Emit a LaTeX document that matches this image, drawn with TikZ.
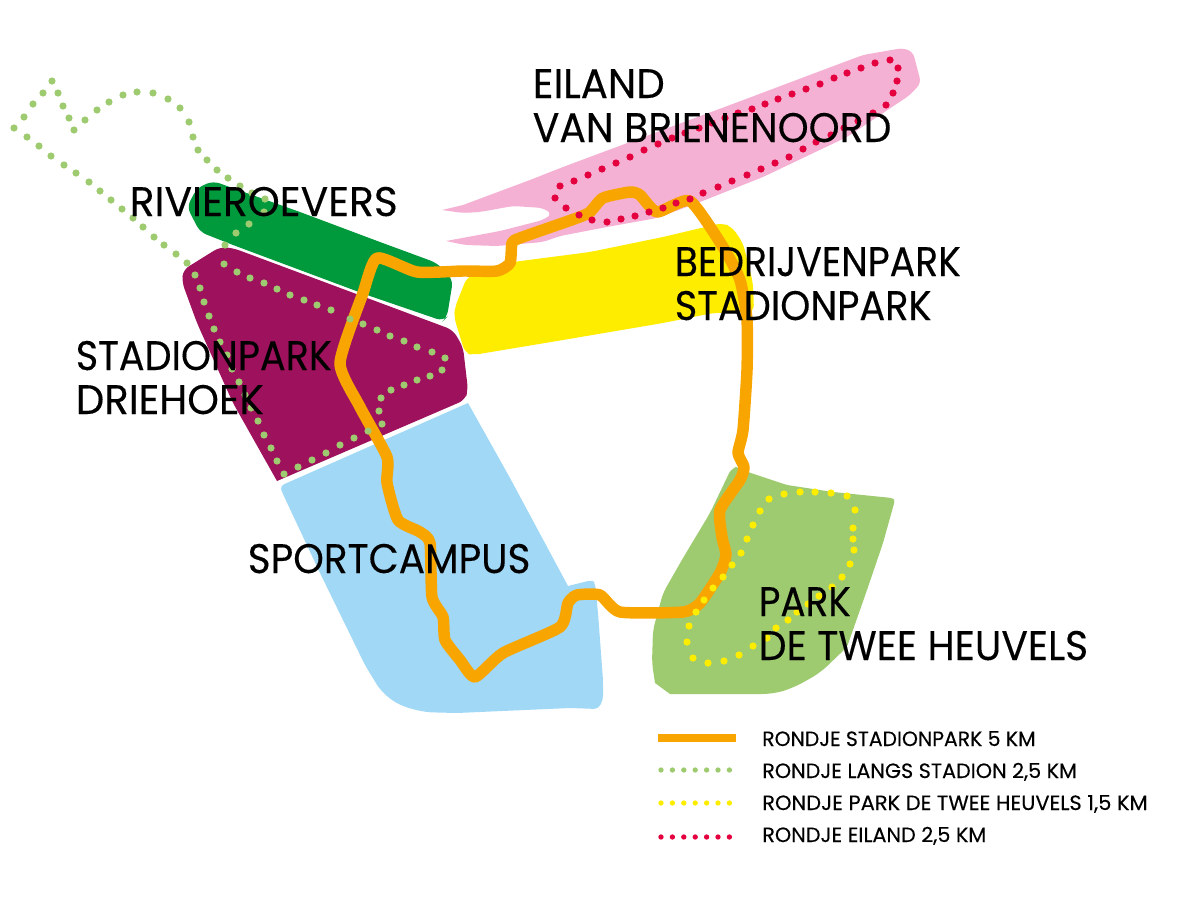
\documentclass[tikz,border=0pt]{standalone}
\usepackage{graphicx}
\usepackage{fontspec}
\setmainfont{Poppins}[FakeBold=0.25]
\definecolor{cOrange}{HTML}{F9A500}
\definecolor{cDark}{HTML}{009A3D}
\definecolor{cPurple}{HTML}{9E115C}
\definecolor{cBlue}{HTML}{A0D8F6}
\definecolor{cYellow}{HTML}{FFED00}
\definecolor{cPink}{HTML}{F5B1D3}
\definecolor{cLight}{HTML}{9FCB70}
\definecolor{cRed}{HTML}{E4003F}
\newcommand{\fitpx}[2]{\resizebox{#1pt}{\height}{#2}}
\tikzset{
  area/.style={rounded corners=5pt},
  maplabel/.style={anchor=base west,inner sep=0pt,align=left,text=black,font=\fontsize{31}{33}\selectfont},
  keylabel/.style={anchor=base west,inner sep=0pt,text=black,font=\fontsize{15.5}{17}\selectfont},
  route/.style={draw=cOrange,line width=8.6pt,line join=round,line cap=round},
  mapdot/.style={radius=2.7pt},
  keydot/.style={radius=2pt}
}
\begin{document}
\begin{tikzpicture}[x=0.75pt,y=-0.75pt]
\useasboundingbox (0,0) rectangle (1200,900);
% yellow
\fill[cYellow,area] (722,223) -- (732,227) -- (743,243) -- (753,283) -- (754,312) -- (713,313) -- (663,323) -- (563,340) -- (473,355) -- (465,353) -- (454,317) -- (455,307) -- (467,277) -- (513,262) -- (590,252) -- (663,237) -- cycle;
% pink
\fill[cPink,rounded corners=4pt] (903,48) -- (913,52) -- (921,83) -- (910,95) -- (847,137) -- (763,177) -- (700,202) -- (657,218) -- (607,227) -- (560,236) -- (543,242) -- (497,246) -- (465,245) [sharp corners] -- (446,241) -- (473,236) [rounded corners=4pt] -- (500,231) -- (543,220) -- (552,214) -- (543,208) -- (513,206) -- (480,212) -- (463,213) [sharp corners] -- (442,210) -- (463,205) [rounded corners=4pt] -- (530,180) -- (563,167) -- (630,142) -- (730,105) -- (823,70) -- (863,55) -- cycle;
% dark green
\fill[cDark,area] (213,181) -- (300,212) -- (380,242) -- (437,263) -- (453,280) -- (447,317) -- (443,321) -- (367,295) -- (233,245) -- (200,232) -- (187,207) -- (197,188) -- cycle;
% purple
\fill[cPurple,area] (220,247) -- (233,248) -- (453,330) -- (463,347) -- (468,390) -- (465,400) [sharp corners] -- (277,481) [rounded corners=5pt] -- (233,403) -- (197,323) -- (182,282) -- (183,270) -- (207,255) -- cycle;
% blue
\fill[cBlue,rounded corners=3pt] (468,403) -- (280,486) -- (282,492) -- (320,573) -- (365,665) [rounded corners=12pt] -- (385,698) -- (417,712) [rounded corners=3pt] -- (457,713) -- (570,708) -- (598,709) -- (603,700) -- (603,680) -- (598,613) -- (595,583) -- (592,580) [sharp corners] -- (568,586) -- (510,478) -- cycle;
% light green
\fill[cLight,rounded corners=2pt] (732,467) -- (735,467) -- (748,472) -- (787,485) -- (833,492) -- (892,498) -- (895,500) -- (883,543) -- (867,590) -- (847,647) [rounded corners=8pt] -- (820,673) -- (793,688) -- (773,694) [sharp corners] -- (670,694) -- (655,683) [rounded corners=5pt] -- (652,663) -- (653,630) -- (663,593) -- (683,558) -- (710,513) -- cycle;
% orange route
\draw[route] plot[smooth cycle,tension=.35] coordinates {(377,258) (417,272) (463,271) (497,271) (510,263) (512,243) (520,238) (577,218) (590,212) (603,198) (630,192) (640,195) (657,212) (690,201) (723,247) (740,280) (747,320) (747,370) (743,430) (738,453) (744,467) (740,480) (720,510) (722,537) (726,555) (720,573) (700,603) (683,612) (620,612) (600,595) (577,595) (568,603) (560,627) (503,653) (475,677) (460,660) (445,640) (443,617) (432,597) (430,543) (420,532) (398,520) (387,483) (387,457) (360,407) (340,363) (363,293)};
% green dots
\foreach \p in {(52,81),(43,93),(33,104),(24,117),(14,128),(27,137),(39,146),(51,156),(64,165),(76,173),(89,182),(100,191),(111,200),(122,209),(133,218),(143,227),(154,237),(164,245),(176,254),(187,263),(195,275),(200,288),(204,302),(209,316),(214,329),(220,342),(227,355),(232,369),(239,382),(245,395),(251,408),(258,421),(264,435),(271,448),(277,461),(284,474),(298,467),(312,460),(326,453),(340,445),(354,438),(368,431),(382,424),(379,411),(381,398),(391,390),(404,385),(417,380),(430,376),(442,370),(445,358),(432,352),(417,347),(404,341),(390,336),(377,330),(363,324),(350,319),(331,310),(317,305),(304,300),(290,295),(277,289),(264,283),(250,278),(237,272),(224,264),(225,245),(236,233),(249,224),(264,212),(265,199),(252,193),(240,186),(228,178),(217,170),(207,160),(198,150),(193,137),(189,122),(180,108),(168,99),(153,93),(137,92),(123,95),(109,102),(97,110),(85,120),(74,130),(69,118),(63,106),(58,93)}
  \fill[cLight,mapdot] \p circle;
% red dots
\foreach \p in {(890,60),(898,68),(897,81),(893,93),(886,105),(873,113),(858,121),(844,128),(831,135),(816,142),(803,149),(789,157),(775,163),(761,169),(747,175),(732,181),(718,187),(703,193),(690,199),(676,203),(663,208),(649,212),(635,216),(621,219),(607,222),(592,220),(579,215),(566,208),(555,198),(560,186),(574,181),(588,175),(602,169),(616,163),(630,157),(644,150),(658,144),(672,138),(685,133),(699,128),(712,123),(725,118),(738,113),(752,109),(765,104),(778,99),(792,94),(806,89),(820,84),(834,78),(847,73),(861,68),(875,63)}
  \fill[cRed,mapdot] \p circle;
% yellow dots
\foreach \p in {(847,496),(831,493),(815,492),(800,492),(784,494),(769,499),(760,511),(753,525),(747,539),(741,553),(732,565),(723,577),(713,588),(704,600),(696,612),(689,626),(687,642),(693,658),(708,663),(724,661),(739,655),(753,646),(767,638),(776,628),(788,620),(797,612),(808,604),(819,596),(832,587),(842,577),(850,564),(854,550),(853,539),(853,528),(855,510)}
  \fill[cYellow,mapdot] \p circle;
% labels
\node[maplabel] (eiland) at (532.5,142) {\fitpx{99}{EILAND}\\\fitpx{269}{VAN BRIENENOORD}};
\node[maplabel] (rivier) at (129.5,216) {\fitpx{201}{RIVIEROEVERS}};
\node[maplabel] (driehoek) at (75.5,414) {\fitpx{192}{STADIONPARK}\\\fitpx{141}{DRIEHOEK}};
\node[maplabel] (bedrijven) at (674.5,320) {\fitpx{214.5}{BEDRIJVENPARK}\\\fitpx{192.5}{STADIONPARK}};
\node[maplabel] (campus) at (247.5,573) {\fitpx{212}{SPORTCAMPUS}};
\node[maplabel] (heuvels) at (758.5,660) {\fitpx{69}{PARK}\\\fitpx{247}{DE TWEE HEUVELS}};
% legend
\coordinate (ka) at (658,738);
\coordinate (kb) at (736,738);
\draw[cOrange,line width=6pt] (ka) -- (kb);
\foreach \x in {661,672.4,683.8,695.2,706.6,718,729.4}{
  \fill[cLight,keydot] (\x,770) circle;
  \fill[cYellow,keydot] (\x,803) circle;
  \fill[cRed,keydot] (\x,837) circle;
}
\node[keylabel] (k1) at (762,746) {\fitpx{205}{RONDJE STADIONPARK 5 KM}};
\node[keylabel] (k2) at (762,778) {\fitpx{236}{RONDJE LANGS STADION 2,5 KM}};
\node[keylabel] (k3) at (762,810) {\fitpx{289}{RONDJE PARK DE TWEE HEUVELS 1,5 KM}};
\node[keylabel] (k4) at (762,842) {\fitpx{168}{RONDJE EILAND 2,5 KM}};
\end{tikzpicture}
\end{document}
